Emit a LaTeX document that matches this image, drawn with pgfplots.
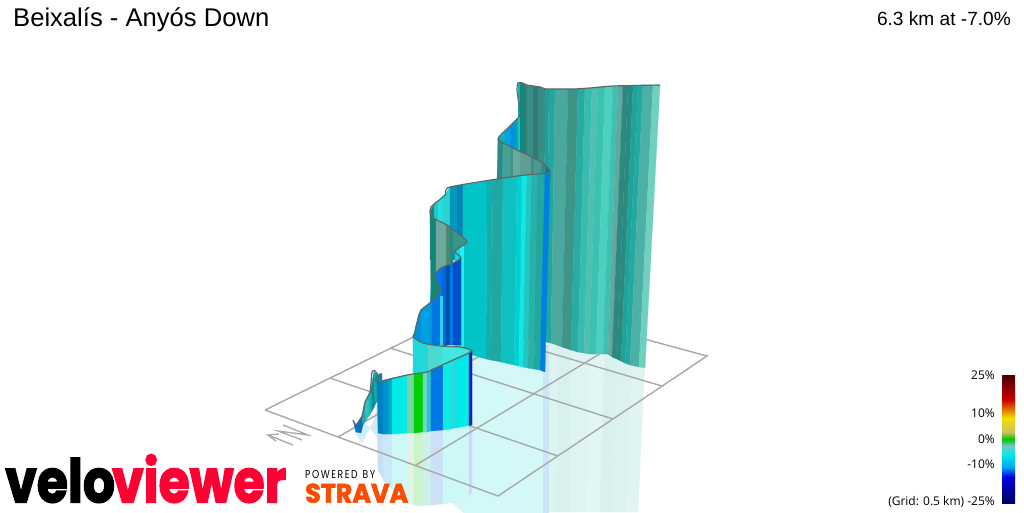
\documentclass[border=0pt]{standalone}
\usepackage{pgfplots}
\pgfplotsset{compat=1.18}
\usepackage{fontspec}
\usepackage{graphicx}
\setmainfont{Liberation Sans}
\newfontfamily\cbfont{Open Sans}
\newfontfamily\logofont{Poppins}[BoldFeatures={FakeBold=2.5}]
\newfontfamily\stravafont{Poppins}[BoldFeatures={FakeBold=2.5}]
\definecolor{gridc}{HTML}{A8A8A8}
\definecolor{linec}{HTML}{5F6668}
\newcommand\Bg[4]{\xdef\pxt{#1}\xdef\pyt{#2}\xdef\pxb{#3}\xdef\pyb{#4}}
\newcommand\St[5]{\definecolor{c#5}{HTML}{#5}\edef\tmp{\noexpand\addplot[fill=c#5,draw=c#5,line width=0.25pt] coordinates {(\pxt,\pyt)(#1,#2)(#3,#4)(\pxb,\pyb)(\pxt,\pyt)};}\tmp\Bg{#1}{#2}{#3}{#4}}
\newcommand\Poly[2]{\definecolor{c#1}{HTML}{#1}\addplot[fill=c#1,draw=c#1,line width=0.25pt] coordinates {#2};}
\newcommand\Gr[1]{\addplot[draw=gridc,line width=1.4pt] coordinates {#1};}
\newcommand\CB[2]{\node[anchor=east,inner sep=0pt,font=\cbfont\fontsize{12}{14}\selectfont] at (axis cs:995,#1) {#2};}
\begin{document}
\begin{tikzpicture}
\begin{axis}[hide axis,scale only axis,width=1024pt,height=512pt,xmin=0,xmax=1024,ymin=0,ymax=512,y dir=reverse,no markers]
% ---- reflections
\Bg{547}{340}{547}{512}
\St{558}{340}{557}{512}{DCF3F1}
\St{572}{340}{570}{512}{D8F1EF}
\St{590}{345}{586}{512}{DEF4F2}
\St{605}{345}{600}{512}{E2F6F4}
\St{618}{350}{612}{512}{D8F0EE}
\St{632}{355}{626}{512}{DCF2F0}
\St{645}{360}{638}{512}{E0F4F2}
\Bg{452}{345}{452}{503}
\St{463}{345}{463}{512}{D6F6F6}
\St{505}{345}{505}{512}{D2F8F8}
\St{520}{345}{520}{512}{D6F7F7}
\St{543}{345}{543}{512}{D4F7F7}
\St{548}{345}{548}{512}{CCE6F8}
\Bg{377}{425}{378}{470}
\St{383}{425}{384}{481}{C8E0F4}
\St{392}{425}{392}{489}{CCE8F8}
\St{407}{425}{407}{502}{CCF8F8}
\St{414}{425}{414}{505}{E0F4E8}
\St{423}{425}{423}{506}{CCF4CC}
\St{431}{425}{431}{505}{D0F0F0}
\St{443}{425}{443}{504}{CCE0F8}
\St{456}{425}{456}{502}{CCF8F8}
\St{469}{425}{469}{495}{CCF8F8}
\St{472}{425}{472}{493}{D0D8F4}
\Poly{D4ECF4}{(354,425)(355,432)(362,443)(365,437)(373,422)(377,407)(378,440)(372,430)(362,420)(354,425)}
% ---- grid
\Gr{(265,410)(493,298)(707,356)(498,496)(265,410)}
\Gr{(330,378)(558,456)}
\Gr{(390,348)(613,419)}
\Gr{(445,322)(662,386)}
\Gr{(338,437)(553,314)}
\Gr{(416,465)(631,335)}
% ---- north arrow
\addplot[draw=gridc,line width=1.3pt] coordinates {(283,425)(308,435)(278,431)(302,440)};
\addplot[draw=gridc,line width=1.3pt] coordinates {(293,445)(268,435)(279,434)};
\addplot[draw=gridc,line width=1.3pt] coordinates {(268,435)(276,441)};
% ---- far big panel
\Bg{520}{84}{520}{340}
\St{527}{85}{527}{340}{2F807A}
\St{533}{86}{533}{341}{3A8C86}
\St{538}{86}{538}{341}{2E7C74}
\St{542}{88}{541}{341}{3A8A82}
\St{545}{89}{544}{342}{30908A}
\St{549}{89}{546}{342}{2A9A94}
\St{555}{89}{551}{343}{20A8A0}
\St{568}{89}{562}{347}{4AA89E}
\St{578}{89}{571}{350}{3F9488}
\St{585}{88}{578}{352}{2AABA2}
\St{592}{88}{584}{353}{38BCB0}
\St{598}{87}{589}{354}{50C0B4}
\St{605}{87}{596}{354}{3CC0B0}
\St{613}{86}{603}{354}{4CD0C0}
\St{618}{86}{608}{354}{40C0B0}
\St{623}{86}{612}{357}{60A8A0}
\St{628}{86}{617}{359}{2E8880}
\St{633}{86}{621}{361}{2A8A80}
\St{638}{85}{625}{363}{1FA298}
\St{643}{85}{630}{365}{22AAA0}
\St{653}{85}{639}{367}{4CB0A4}
\St{660}{85}{645}{368}{70D0C0}
% ---- loop behind
\Bg{518}{83}{518}{125}
\St{520}{83}{520}{125}{18B0B0}
\St{523}{83}{523}{125}{108880}
\Bg{498}{139}{498}{180}
\St{500}{137}{500}{180}{10A0A8}
\St{505}{131}{505}{180}{10B0C0}
\St{510}{126}{510}{180}{00A8E0}
\St{515}{121}{515}{180}{0090E8}
\St{518}{118}{518}{180}{10A0A8}
\St{520}{115}{520}{180}{10C8C8}
\St{523}{115}{523}{180}{108880}
% ---- back face at the top
\Bg{498}{139}{497}{180}
\St{503}{142}{502}{180}{2B8A84}
\St{511}{147}{511}{180}{45A096}
\St{513}{148}{513}{180}{3C9088}
\St{520}{152}{520}{180}{6BA89E}
\St{531}{157}{531}{180}{5F9E92}
\St{534}{159}{534}{180}{3C9088}
\St{541}{162}{541}{180}{4F9A90}
\St{546}{166}{546}{180}{2F8C86}
\St{550}{171}{550}{180}{1A6E90}
% ---- long front panel
\Bg{430}{212}{430}{260}
\St{434}{204}{434}{260}{1A8078}
\St{438}{201}{438}{260}{20C8C8}
\St{443}{197}{443}{260}{20E0E0}
\St{450}{187}{450}{260}{30D0D0}
\St{457}{186}{457}{260}{0098C0}
\St{463}{185}{463}{352}{0085B5}
\St{487}{181}{486}{359}{00C4C8}
\St{493}{180}{491}{360}{10B0B0}
\St{503}{178}{501}{362}{20A8A0}
\St{517}{176}{514}{365}{10C0C0}
\St{522}{175}{519}{366}{00D0D0}
\St{527}{175}{523}{367}{10E8E8}
\St{532}{174}{528}{368}{20C8C0}
\St{538}{173}{534}{369}{2AB0A8}
\St{545}{172}{540}{370}{20A8A0}
\St{550}{172}{545}{372}{0080E0}
% bright strips under the wedge
\Bg{455}{240}{455}{350}
\St{460}{240}{460}{350}{10D8E0}
\St{463}{240}{463}{350}{20F0F0}
% ---- blue panel
\Bg{413}{337}{413}{345}
\St{416}{325}{416}{345}{0098C8}
\St{421}{310}{421}{345}{0090E0}
\St{430}{303}{430}{345}{00A0E0}
\St{432}{275}{432}{345}{0098D8}
\St{440}{266}{440}{345}{0078E8}
\St{442}{265}{442}{345}{0078E8}
\St{446}{265}{446}{345}{0068E8}
\St{450}{264}{450}{345}{0050A8}
\St{453}{263}{453}{345}{0078E8}
\St{461}{258}{461}{345}{0050C8}
\Bg{440}{296}{440}{345}
\St{442}{296}{442}{345}{30D0E0}
% ---- grey back face with its lower curve
\Poly{108878}{(430,212)(433,218)(436,220)(436,272)(434,277)(441,290)(431,302)(430,212)}
\Bg{436}{220}{436}{272}
\St{446}{225}{446}{265}{70A89E}
\St{450}{228}{450}{264}{4A8A70}
\St{453}{230}{453}{263}{2A8A80}
\Poly{3A9488}{(453,230)(460,235)(467,242)(455,251)(453,250)(453,230)}
% ---- pale panel
\Bg{413}{337}{413}{376}
\St{423}{343}{423}{376}{20D8D8}
\St{428}{344}{428}{376}{20D8D8}
\St{437}{346}{437}{376}{50D8D0}
\St{443}{346}{443}{376}{40E0D8}
\St{460}{347}{460}{376}{40E8E0}
\St{471}{351}{471}{376}{40E8E0}
% ---- small far squiggle
\Poly{0070C8}{(353,420)(356,425)(362,416)(363,425)(361,433)(356,432)(353,420)}
\Bg{362}{416}{363}{425}
\St{365}{402}{366}{420}{20A8B0}
\St{368}{396}{369}{416}{30C0C0}
\St{371}{388}{372}{411}{10B8B8}
\St{374}{372}{375}{405}{108898}
\St{378}{375}{378}{400}{0FA8A8}
\Poly{108898}{(376,378)(380,374)(382,374)(382,380)(377,382)(376,378)}
% ---- front panel
\Bg{377}{382}{378}{433}
\St{383}{380.5}{383}{434}{0080C0}
\St{388}{379}{388}{434}{0090D0}
\St{392}{378}{392}{434}{00A8C8}
\St{407}{375}{407}{433}{00E8E8}
\St{414}{374}{414}{433}{70D8A0}
\St{423}{373}{423}{432}{00D000}
\St{427}{372}{427}{432}{70D8C8}
\St{431}{369.5}{431}{431}{30C0D0}
\St{443}{365}{443}{430}{0078E8}
\St{451}{361}{451}{429}{10E8E8}
\St{455}{359}{455}{428}{30D8D8}
\St{469}{352}{469}{425.5}{00E8E8}
\St{472}{351}{472}{425}{0020C0}
% ---- outlines
\addplot[draw=linec,line width=1.2pt,smooth,tension=0.4] coordinates {(523,83)(527,85)(540,87)(543,88)(546,89)(573,89)(590,88)(613,86)(660,85)};
\addplot[draw=linec,line width=1.2pt,smooth,tension=0.4] coordinates {(523,83)(518,83)(517,90)(519,105)(520,115)(516,120)(508,128)(498,139)(513,148)(530,156)(543,163)(550,171)(546,173)(526,175)(510,177)(450,187)(445,195)(433,205)(431,207)(430,212)(433,218)(447,225)(460,235)(467,242)(455,251)(461,258)(453,263)(441,268)(434,277)(441,290)(431,302)(421,310)(418,318)(415,333)(413,337)(423,343)(440,346)(460,347)(470,349.5)(471,352)(453,360)(440,366)(427,372)(407,375)(377,382)(376,378)(380,374)(382,374)};
\addplot[draw=linec,line width=1.2pt,smooth,tension=0.4] coordinates {(378,375)(375,371)(372,372)(370,392)(365,402)(362,416)(356,425)(353,420)};
% ---- colour bar
\shade[top color={rgb,255:red,74;green,0;blue,0},bottom color={rgb,255:red,208;green,0;blue,0}] (axis cs:1002,375) rectangle (axis cs:1015,400);
\shade[top color={rgb,255:red,208;green,0;blue,0},bottom color={rgb,255:red,240;green,224;blue,0}] (axis cs:1002,400) rectangle (axis cs:1015,418);
\shade[top color={rgb,255:red,240;green,224;blue,0},bottom color={rgb,255:red,208;green,192;blue,96}] (axis cs:1002,418) rectangle (axis cs:1015,432);
\shade[top color={rgb,255:red,208;green,192;blue,96},bottom color={rgb,255:red,0;green,200;blue,0}] (axis cs:1002,432) rectangle (axis cs:1015,439);
\shade[top color={rgb,255:red,0;green,200;blue,0},bottom color={rgb,255:red,112;green,200;blue,200}] (axis cs:1002,439) rectangle (axis cs:1015,446);
\shade[top color={rgb,255:red,112;green,200;blue,200},bottom color={rgb,255:red,0;green,232;blue,232}] (axis cs:1002,446) rectangle (axis cs:1015,455);
\shade[top color={rgb,255:red,0;green,232;blue,232},bottom color={rgb,255:red,0;green,168;blue,240}] (axis cs:1002,455) rectangle (axis cs:1015,467);
\shade[top color={rgb,255:red,0;green,168;blue,240},bottom color={rgb,255:red,0;green,0;blue,224}] (axis cs:1002,467) rectangle (axis cs:1015,477);
\shade[top color={rgb,255:red,0;green,0;blue,224},bottom color={rgb,255:red,0;green,0;blue,96}] (axis cs:1002,477) rectangle (axis cs:1015,503);
% ---- text
\node[anchor=west,inner sep=0pt,font=\fontsize{25.6}{30}\selectfont] at (axis cs:13,20) {Beixalís - Anyós Down};
\node[anchor=east,inner sep=0pt,font=\fontsize{19.1}{23}\selectfont] at (axis cs:1011,19) {6.3 km at -7.0\%};
\CB{375}{25\%}
\CB{413}{10\%}
\CB{439}{0\%}
\CB{464}{-10\%}
\CB{502}{(Grid: 0.5 km) -25\%}
\node[anchor=south west,inner sep=0pt] at (axis cs:5,503) {\resizebox{281pt}{48pt}{\logofont\bfseries velo\kern-0.06em\textcolor[HTML]{FF0033}{viewer}}};
\node[anchor=south west,inner sep=0pt] at (axis cs:305,479) {\resizebox{70pt}{8pt}{\stravafont P\,O\,W\,E\,R\,E\,D\ \ B\,Y}};
\node[anchor=south west,inner sep=0pt] at (axis cs:305,503) {\resizebox{103pt}{19pt}{\stravafont\bfseries\textcolor[HTML]{FC4C02}{STRAVA}}};
\end{axis}
\pgfresetboundingbox
\path (0,0) rectangle (1024pt,512pt);
\end{tikzpicture}
\end{document}
